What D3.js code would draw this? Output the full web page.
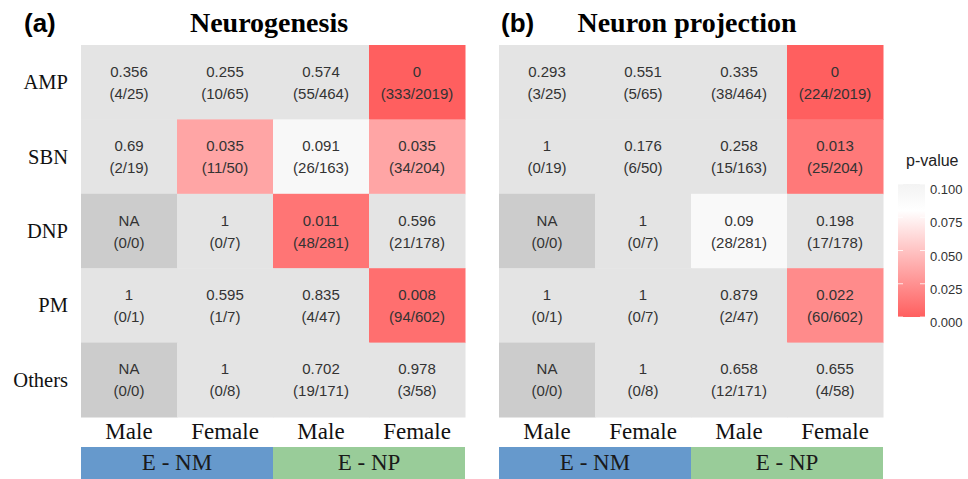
<!DOCTYPE html>
<html>
<head>
<meta charset="utf-8">
<script src="https://cdn.jsdelivr.net/npm/d3@7"></script>
<style>
  html, body { margin: 0; padding: 0; background: #fff; }
  svg { display: block; }
</style>
</head>
<body>
<svg id="chart" width="968" height="479"></svg>
<script>
const rows = ["AMP", "SBN", "DNP", "PM", "Others"];
const cols = ["Male", "Female", "Male", "Female"];
const groups = ["E - NM", "E - NP"];
const legendTicks = [0, 0.025, 0.05, 0.075, 0.1];

const neuroP = [
  [0.356, 0.255, 0.574, 0],
  [0.69, 0.035, 0.091, 0.035],
  [null, 1, 0.011, 0.596],
  [1, 0.595, 0.835, 0.008],
  [null, 1, 0.702, 0.978]
];
const neuroCounts = [
  ["4/25", "10/65", "55/464", "333/2019"],
  ["2/19", "11/50", "26/163", "34/204"],
  ["0/0", "0/7", "48/281", "21/178"],
  ["0/1", "1/7", "4/47", "94/602"],
  ["0/0", "0/8", "19/171", "3/58"]
];
const projP = [
  [0.293, 0.551, 0.335, 0],
  [1, 0.176, 0.258, 0.013],
  [null, 1, 0.09, 0.198],
  [1, 1, 0.879, 0.022],
  [null, 1, 0.658, 0.655]
];
const projCounts = [
  ["3/25", "5/65", "38/464", "224/2019"],
  ["0/19", "6/50", "15/163", "25/204"],
  ["0/0", "0/7", "28/281", "17/178"],
  ["0/1", "0/7", "2/47", "60/602"],
  ["0/0", "0/8", "12/171", "4/58"]
];

const svg = d3.select("#chart");
const serif = "'Liberation Serif', 'Times New Roman', serif";
const sans = "'Liberation Sans', Arial, Helvetica, sans-serif";

const color = d3.scaleLinear().domain([0, 0.08, 0.1]).range(["#FF5F5F", "#FFFFFF", "#F3F3F3"]).clamp(true);
const fillFor = p => p === null ? "#CCCCCC" : (p > 0.1 ? "#E4E4E4" : color(p));

const y = d3.scaleBand().domain(rows).range([45, 417]);

function panel(x0, x1, pvals, counts, tag, title, tagX, showRows) {
  const g = svg.append("g");
  const x = d3.scaleBand().domain(d3.range(cols.length)).range([x0, x1]);
  const cells = [];
  rows.forEach((r, i) => cols.forEach((c, j) => cells.push({ r, j, p: pvals[i][j], n: counts[i][j] })));

  g.selectAll("rect.cell").data(cells).join("rect")
    .attr("class", "cell")
    .attr("x", d => x(d.j)).attr("y", d => y(d.r))
    .attr("width", x.bandwidth() + 0.5).attr("height", y.bandwidth() + 0.5)
    .attr("fill", d => fillFor(d.p));

  const t = g.selectAll("g.lbl").data(cells).join("g")
    .attr("class", "lbl")
    .attr("transform", d => `translate(${x(d.j) + x.bandwidth() / 2},${y(d.r) + y.bandwidth() / 2})`)
    .attr("font-family", sans).attr("font-size", 15).attr("fill", "#333").attr("text-anchor", "middle");
  t.append("text").attr("y", -5.5).text(d => d.p === null ? "NA" : String(d.p));
  t.append("text").attr("y", 16.5).text(d => `(${d.n})`);

  if (showRows) {
    g.selectAll("text.row").data(rows).join("text")
      .attr("class", "row")
      .attr("x", 68).attr("y", d => y(d) + y.bandwidth() / 2 + 7)
      .attr("text-anchor", "end").attr("font-family", serif).attr("font-size", 20.5).attr("fill", "#111")
      .text(d => d);
  }

  g.selectAll("text.col").data(cols).join("text")
    .attr("class", "col")
    .attr("x", (d, j) => x(j) + x.bandwidth() / 2).attr("y", 439)
    .attr("text-anchor", "middle").attr("font-family", serif).attr("font-size", 23).attr("fill", "#111")
    .text(d => d);

  const gx = d3.scaleBand().domain(groups).range([x0, x1]);
  const gcol = ["#6699CC", "#99CC99"];
  g.selectAll("rect.grp").data(groups).join("rect")
    .attr("class", "grp")
    .attr("x", d => gx(d)).attr("y", 447).attr("width", gx.bandwidth()).attr("height", 32)
    .attr("fill", (d, i) => gcol[i]);
  g.selectAll("text.grp").data(groups).join("text")
    .attr("class", "grp")
    .attr("x", d => gx(d) + gx.bandwidth() / 2).attr("y", 470)
    .attr("text-anchor", "middle").attr("font-family", serif).attr("font-size", 23).attr("fill", "#1a1a1a")
    .text(d => d);

  g.append("text").attr("x", tagX).attr("y", 32)
    .attr("font-family", sans).attr("font-weight", "bold").attr("font-size", 26).attr("fill", "#000")
    .text(tag);
  g.append("text").attr("x", (x0 + x1) / 2 - 4).attr("y", 32)
    .attr("text-anchor", "middle").attr("font-family", serif).attr("font-weight", "bold").attr("font-size", 28).attr("fill", "#000")
    .text(title);
}

panel(81, 465, neuroP, neuroCounts, "(a)", "Neurogenesis", 24, true);
panel(499, 883, projP, projCounts, "(b)", "Neuron projection", 501, false);

// legend
const ly = d3.scaleLinear().domain([0, 0.1]).range([317, 184]);
const defs = svg.append("defs");
const grad = defs.append("linearGradient").attr("id", "pgrad").attr("x1", 0).attr("y1", 1).attr("x2", 0).attr("y2", 0);
d3.range(0, 1.0001, 0.05).forEach(f => {
  grad.append("stop").attr("offset", f).attr("stop-color", color(f * 0.1));
});
const lg = svg.append("g");
lg.append("text").attr("x", 906).attr("y", 166).attr("font-family", sans).attr("font-size", 16).attr("fill", "#222").text("p-value");
lg.append("rect").attr("x", 898).attr("y", ly(0.1)).attr("width", 27).attr("height", ly(0) - ly(0.1)).attr("fill", "url(#pgrad)");
lg.selectAll("line.tk").data(legendTicks).join("line")
  .attr("class", "tk")
  .attr("x1", 898).attr("x2", 903).attr("y1", d => ly(d)).attr("y2", d => ly(d))
  .attr("stroke", "#fff").attr("stroke-width", 0.8);
lg.selectAll("line.tk2").data(legendTicks).join("line")
  .attr("class", "tk2")
  .attr("x1", 920).attr("x2", 925).attr("y1", d => ly(d)).attr("y2", d => ly(d))
  .attr("stroke", "#fff").attr("stroke-width", 0.8);
lg.selectAll("text.lab").data(legendTicks).join("text")
  .attr("class", "lab")
  .attr("x", 930).attr("y", d => ly(d) + 10)
  .attr("font-family", sans).attr("font-size", 13).attr("fill", "#333")
  .text(d => d3.format(".3f")(d));
</script>
</body>
</html>
